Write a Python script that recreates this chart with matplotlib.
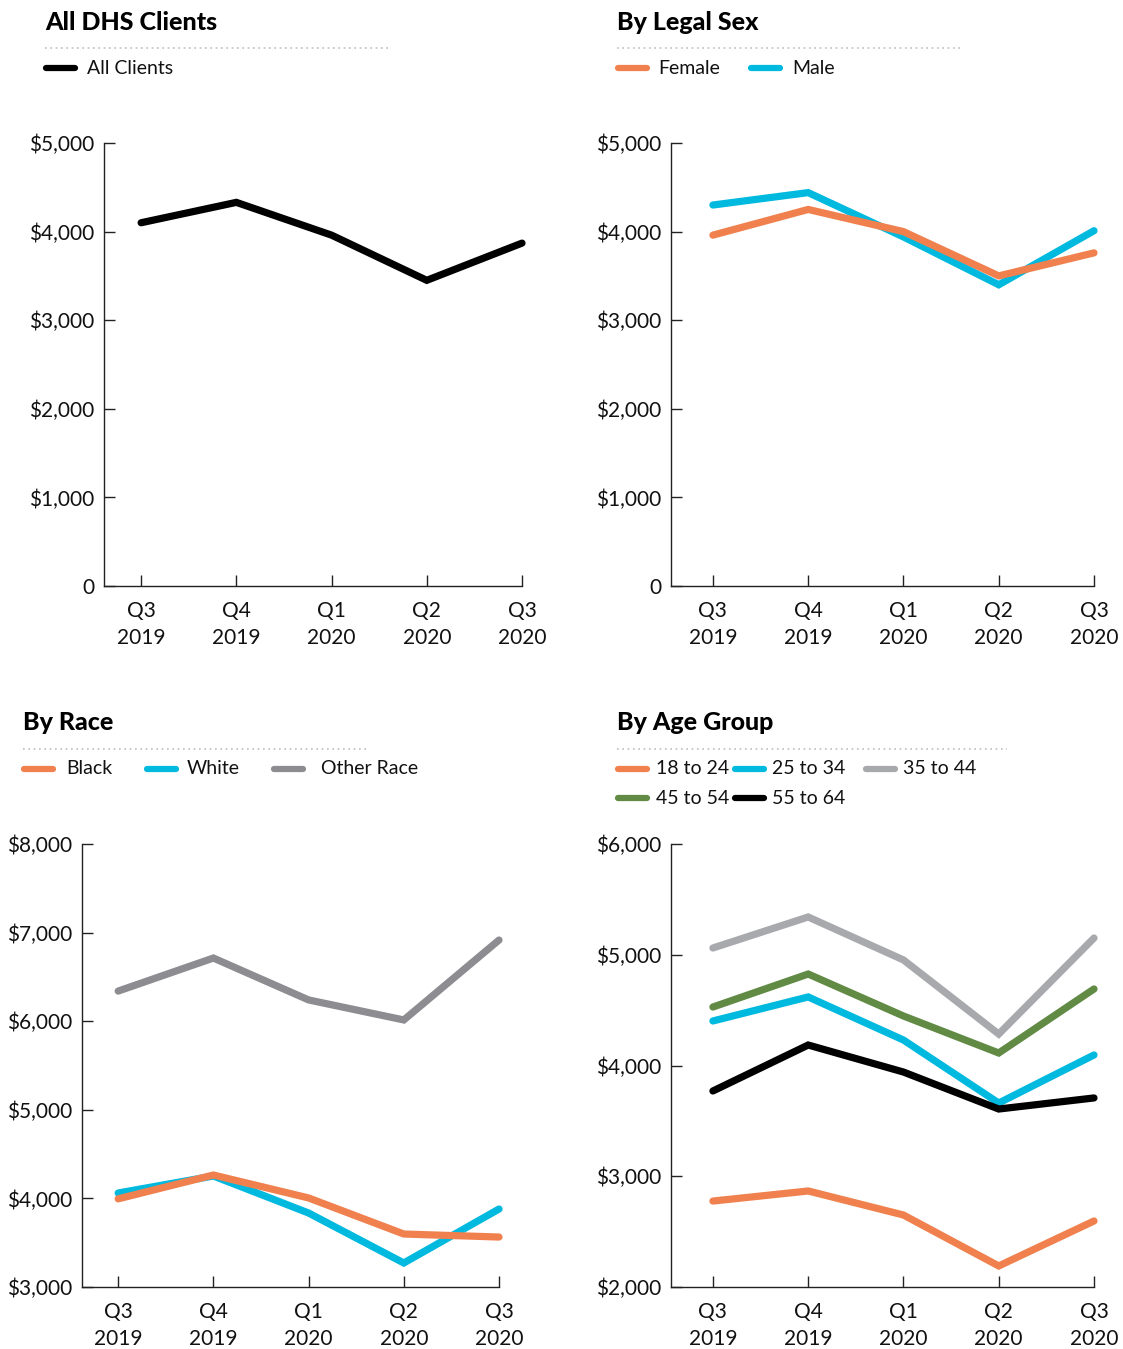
import matplotlib.pyplot as plt
from matplotlib.lines import Line2D
from matplotlib.ticker import FuncFormatter

plt.rcParams['font.family'] = ['Lato', 'DejaVu Sans']

quarters = ["Q3\n2019", "Q4\n2019", "Q1\n2020", "Q2\n2020", "Q3\n2020"]

# average payment per client, by quarter
all_clients = [4100, 4330, 3960, 3450, 3870]

female = [3960, 4250, 4000, 3500, 3760]
male = [4300, 4440, 3940, 3400, 4010]

black = [3995, 4264, 4005, 3598, 3564]
white = [4061, 4253, 3835, 3271, 3880]
other_race = [6340, 6713, 6240, 6014, 6916]

age_18_24 = [2776, 2867, 2650, 2190, 2596]
age_25_34 = [4402, 4619, 4230, 3661, 4095]
age_35_44 = [5061, 5341, 4953, 4284, 5151]
age_45_54 = [4528, 4826, 4447, 4113, 4691]
age_55_64 = [3770, 4185, 3941, 3607, 3707]

ORANGE = '#F0814F'
CYAN = '#00B9DF'
GRAY = '#8C8C91'
LIGHT_GRAY = '#A8A9AD'
GREEN = '#618B45'
BLACK = '#000000'

W, H = 1123, 1349
fig = plt.figure(figsize=(W / 100, H / 100), dpi=100)


def px(x, y):
    # pixel position (from top-left) to figure fraction
    return x / W, 1 - y / H


def money(v, pos):
    return '0' if v == 0 else '${:,.0f}'.format(v)


def header(x, y, title, rule_end, items):
    fx, fy = px(x, y)
    fig.text(fx, fy, title, fontsize=18, fontweight='black', va='center', ha='left')
    ly = px(0, y + 26)[1]
    fig.add_artist(Line2D([x / W, rule_end / W], [ly, ly], color='#BDBDBD',
                          lw=1.2, linestyle=(0, (1, 2.2))))
    for hx, hy, tx, label, color in items:
        _, lyy = px(0, hy)
        fig.add_artist(Line2D([hx / W, (hx + 29) / W], [lyy, lyy], color=color,
                              lw=4.5, solid_capstyle='round'))
        fig.text(tx / W, lyy, label, fontsize=14, va='center', ha='left', color='#111111')


def panel(left, right, top, bottom, x0, ylim, yticks, series):
    l, t = px(left, top)
    r, b = px(right, bottom)
    ax = fig.add_axes([l, b, r - l, t - b])
    for values, color in series:
        ax.plot(range(len(quarters)), values, color=color, lw=5.2,
                solid_capstyle='round', solid_joinstyle='miter', clip_on=False)
    ax.set_xlim(x0, len(quarters) - 1)
    ax.set_ylim(*ylim)
    ax.set_yticks(yticks)
    ax.yaxis.set_major_formatter(FuncFormatter(money))
    ax.set_xticks(range(len(quarters)))
    ax.set_xticklabels(quarters, linespacing=1.45)
    for s in ('top', 'right'):
        ax.spines[s].set_visible(False)
    for s in ('left', 'bottom'):
        ax.spines[s].set_linewidth(1.0)
        ax.spines[s].set_color('#222222')
    ax.tick_params(direction='in', length=8, width=1.0, color='#222222',
                   labelsize=15, labelcolor='#111111')
    ax.tick_params(axis='y', pad=7)
    ax.tick_params(axis='x', pad=11)
    ax.set_facecolor('none')
    return ax


# All clients
header(45, 22, 'All DHS Clients', 390,
       [(46, 68, 87, 'All Clients', BLACK)])
panel(104, 522, 143, 586, -0.39, (0, 5000), range(0, 5001, 1000),
      [(all_clients, BLACK)])

# Legal sex
header(617, 22, 'By Legal Sex', 962,
       [(618, 68, 658, 'Female', ORANGE), (751, 68, 792, 'Male', CYAN)])
panel(671, 1094, 143, 586, -0.44, (0, 5000), range(0, 5001, 1000),
      [(male, CYAN), (female, ORANGE)])

# Race
header(23, 723, 'By Race', 367,
       [(24, 769, 66, 'Black', ORANGE), (147, 769, 187, 'White', CYAN),
        (274, 769, 321, 'Other Race', GRAY)])
panel(82, 499, 844, 1287, -0.38, (3000, 8000), range(3000, 8001, 1000),
      [(other_race, GRAY), (white, CYAN), (black, ORANGE)])

# Age group
header(617, 723, 'By Age Group', 1007,
       [(618, 769, 656, '18 to 24', ORANGE), (735, 769, 772, '25 to 34', CYAN),
        (866, 769, 903, '35 to 44', LIGHT_GRAY),
        (618, 798, 656, '45 to 54', GREEN), (735, 798, 772, '55 to 64', BLACK)])
panel(671, 1094, 844, 1287, -0.44, (2000, 6000), range(2000, 6001, 1000),
      [(age_35_44, LIGHT_GRAY), (age_45_54, GREEN), (age_25_34, CYAN),
       (age_55_64, BLACK), (age_18_24, ORANGE)])

fig.savefig('out.png', dpi=100)
